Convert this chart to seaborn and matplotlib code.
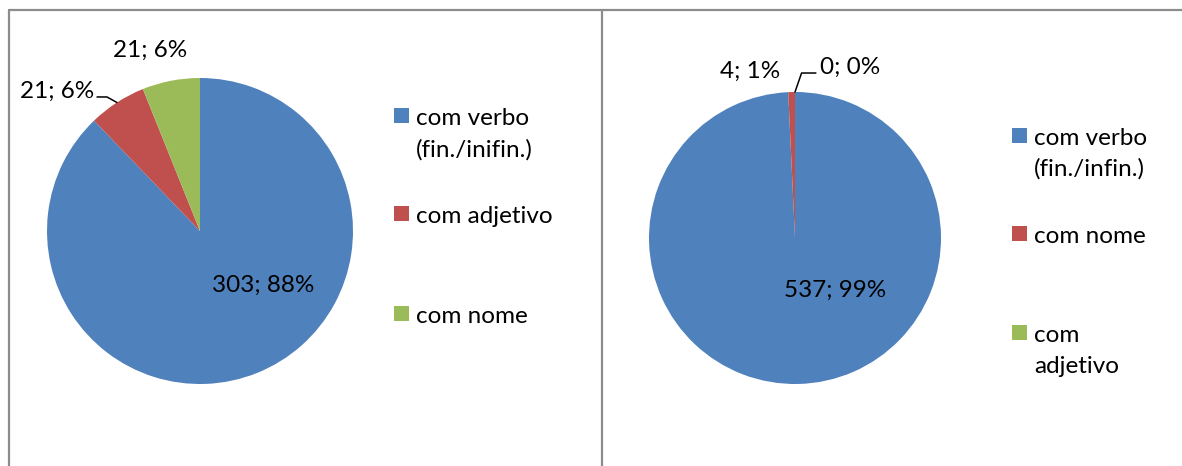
import matplotlib
matplotlib.use("Agg")
import matplotlib.pyplot as plt
from matplotlib.lines import Line2D
from matplotlib.patches import Rectangle
import seaborn as sns

# Left chart: complements with verb / adjective / noun
left_categories = ["com verbo\n(fin./inifin.)", "com adjetivo", "com nome"]
left_values = [303, 21, 21]

# Right chart: complements with verb / noun / adjective
right_categories = ["com verbo\n(fin./infin.)", "com nome", "com\nadjetivo"]
right_values = [537, 4, 0]

sns.set_theme(style="white")
plt.rcParams["font.family"] = ["Lato", "DejaVu Sans"]

palette = ["#4F81BD", "#C0504D", "#9BBB59"]
FS = 17.5
W, H = 1182, 466
fig = plt.figure(figsize=(W / 100, H / 100), dpi=100)
fig.patch.set_facecolor("white")


def px_axes(cx, cy, r):
    return fig.add_axes([(cx - r) / W, (H - cy - r) / H, 2 * r / W, 2 * r / H])


def label_text(v, total):
    return f"{v}; {round(100 * v / total)}%"


def draw_pie(ax, values, label_pos, leaders):
    total = sum(values)
    ax.pie(values, colors=palette, startangle=90, counterclock=False,
           radius=1, wedgeprops=dict(linewidth=0))
    ax.set_xlim(-1, 1)
    ax.set_ylim(-1, 1)
    ax.set_aspect("auto")
    ax.axis("off")
    for v, (x, y, ha) in zip(values, label_pos):
        ax.text(x, y, label_text(v, total), ha=ha, va="center",
                fontsize=FS, color="black", clip_on=False)
    for pts in leaders:
        xs, ys = zip(*pts)
        ax.add_line(Line2D(xs, ys, color="black", lw=1.1, clip_on=False))


def draw_legend(categories, marker_x, text_x, baselines, line_gap=32):
    for i, (cat, base) in enumerate(zip(categories, baselines)):
        fig.add_artist(Rectangle((marker_x / W, (H - base + 2) / H),
                                 15 / W, 15 / H, transform=fig.transFigure,
                                 color=palette[i], lw=0))
        for j, line in enumerate(cat.split("\n")):
            fig.text(text_x / W, (H - base - j * line_gap) / H, line,
                     ha="left", va="baseline", fontsize=FS, color="black")


# Left pie
axL = px_axes(200, 231, 153)
draw_pie(axL, left_values,
         [(0.41, -0.353, "center"), (-0.69, 0.915, "right"), (-0.327, 1.183, "center")],
         [[(-0.673, 0.876), (-0.608, 0.876), (-0.543, 0.840)]])
draw_legend(left_categories, 394, 416, [125, 223, 323])

# Right pie
axR = px_axes(795, 238, 146)
draw_pie(axR, right_values,
         [(0.274, -0.356, "center"), (-0.308, 1.144, "center"), (0.17, 1.171, "left")],
         [[(0.0, 1.0), (0.045, 1.13), (0.143, 1.13)]])
draw_legend(right_categories, 1012, 1034, [145, 243, 342], line_gap=31)

# Chart area frames
frame = dict(color="#8c8c8c", lw=1.6, transform=fig.transFigure)
fig.add_artist(Line2D([9.5 / W, 1.0], [1 - 9.5 / H] * 2, **frame))
fig.add_artist(Line2D([9.5 / W] * 2, [0, 1 - 9.5 / H], **frame))
fig.add_artist(Line2D([601.5 / W] * 2, [0, 1 - 9.5 / H], **frame))

fig.savefig("out.png", dpi=100, facecolor="white")
